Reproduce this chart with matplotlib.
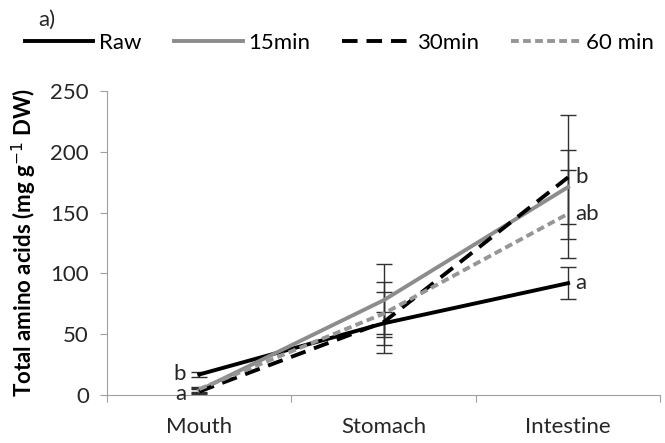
import matplotlib
matplotlib.use('Agg')
from matplotlib import pyplot as plt
from matplotlib.ticker import FixedLocator, NullFormatter

# Данные по отделам ЖКТ.
sites = ['Mouth', 'Stomach', 'Intestine']
raw = [17, 59, 92]
raw_err = [2, 9, 13]
min15 = [4, 78, 171]
min15_err = [2, 30, 30]
min30 = [3, 60, 179]
min30_err = [2, 25, 51]
min60 = [5, 67, 149]
min60_err = [2, 26, 36]
letters = {'Mouth': [('b', 17), ('a', 1)],
           'Intestine': [('b', 179), ('ab', 149), ('a', 92)]}

plt.rcParams['font.family'] = ['Lato', 'DejaVu Sans']

fig = plt.figure(figsize=(6.65, 4.43), dpi=100)
ax = fig.add_axes([0.161, 0.108, 0.832, 0.687])
x = list(range(len(sites)))

series = [
    ('Raw', raw, raw_err, dict(color='black', ls='-')),
    ('15min', min15, min15_err, dict(color='#8c8c8c', ls='-')),
    ('30min', min30, min30_err, dict(color='black', ls=(0, (4, 2.3)))),
    ('60min', min60, min60_err, dict(color='#969696', ls=(0, (2, 1.1)))),
]
handles = []
for name, vals, errs, st in series:
    ax.errorbar(x, vals, yerr=errs, fmt='none', ecolor='#303030',
                elinewidth=1, capsize=6, capthick=1, zorder=2)
    h, = ax.plot(x, vals, lw=2.8, zorder=3, **st)
    handles.append(h)

ax.set_xlim(-0.5, 2.5)
ax.set_ylim(0, 250)
ax.set_yticks(range(0, 251, 50))
ax.xaxis.set_major_locator(FixedLocator([-0.5, 0.5, 1.5, 2.5]))
ax.xaxis.set_major_formatter(NullFormatter())
ax.xaxis.set_minor_locator(FixedLocator(x))
ax.set_xticklabels(sites, minor=True)
ax.tick_params(axis='x', which='major', length=5, color='#a0a0a0')
ax.tick_params(axis='x', which='minor', length=0, pad=16,
               labelsize=16, labelcolor='#262626')
ax.tick_params(axis='y', length=5, color='#a0a0a0', pad=8,
               labelsize=16, labelcolor='#262626')
for s in ['top', 'right']:
    ax.spines[s].set_visible(False)
for s in ['left', 'bottom']:
    ax.spines[s].set_color('#a0a0a0')

ax.set_ylabel('Total amino acids (mg g$^{-1}$ DW)', fontsize=16,
              fontweight='bold', labelpad=8)

for lab, yv in letters['Mouth']:
    ax.text(-0.07, yv, lab, ha='right', va='center', fontsize=16, color='#262626')
for lab, yv in letters['Intestine']:
    ax.text(2.04, yv, lab, ha='left', va='center', fontsize=16, color='#262626')

fig.legend(handles, ['Raw', '15min', '30min', '60 min'], loc='center left',
           bbox_to_anchor=(0.037, 0.903), ncol=4, frameon=False,
           fontsize=16, handlelength=3.1, handletextpad=0.25, columnspacing=1.45,
           borderpad=0, borderaxespad=0)
fig.text(0.058, 0.955, 'a)', fontsize=16, color='#262626', va='center')

fig.savefig('out.png', dpi=100)
